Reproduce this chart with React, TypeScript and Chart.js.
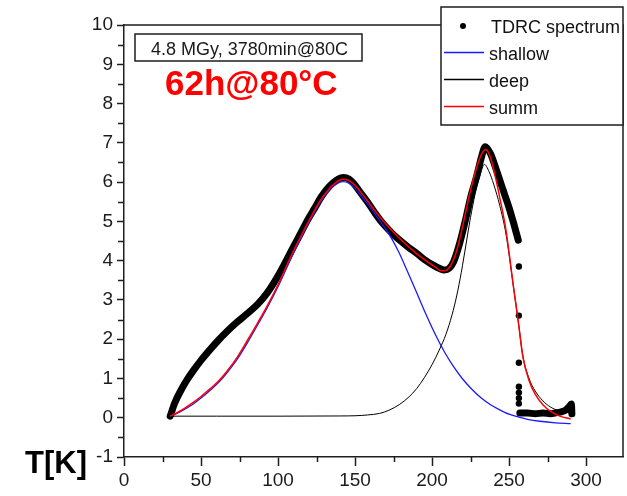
import React, { useEffect, useRef } from "react";
import { Chart, registerables } from "chart.js";

Chart.register(...registerables);

// ---- data ----
const tdrcX = [30, 33, 37, 41, 45, 50, 56, 61, 67, 73, 80, 87, 93, 101, 110, 115, 119, 124, 128, 133, 138, 142.5, 146, 149, 153, 158, 163, 168, 174, 179, 185, 190, 195, 201, 205, 208, 211, 214, 218, 222, 225, 229, 232, 234.5, 238, 241, 244, 247, 250, 253, 256];
const tdrcY = [0.04, 0.38, 0.7, 0.97, 1.2, 1.46, 1.74, 1.96, 2.2, 2.42, 2.65, 2.9, 3.18, 3.68, 4.35, 4.72, 5.02, 5.35, 5.62, 5.88, 6.05, 6.12, 6.08, 5.97, 5.76, 5.5, 5.21, 4.95, 4.7, 4.52, 4.33, 4.19, 4.03, 3.88, 3.8, 3.76, 3.8, 3.97, 4.45, 5.08, 5.6, 6.15, 6.62, 6.9, 6.72, 6.4, 6.05, 5.7, 5.35, 4.95, 4.52];
const tdrcTailX = [257, 262, 267, 272, 277, 281, 284, 287, 289, 290.5, 290.8];
const tdrcTailY = [0.12, 0.12, 0.1, 0.12, 0.1, 0.13, 0.15, 0.2, 0.28, 0.35, 0.1];
const tdrcDotX = [256.4, 256.4, 256.4, 256.4, 256.4, 256.4, 256.4];
const tdrcDotY = [3.85, 2.6, 1.4, 0.79, 0.64, 0.5, 0.36];

const shallowX = [30, 35, 40, 45, 50, 56, 62, 67, 74, 80, 87, 93, 101, 108, 115, 121, 127, 133, 138, 142, 146, 150, 155, 160, 166, 172, 178, 184, 190, 196, 202, 208, 214, 220, 226, 232, 238, 244, 250, 256, 262, 270, 280, 290];
const shallowY = [0.03, 0.12, 0.23, 0.35, 0.5, 0.7, 0.92, 1.15, 1.52, 1.9, 2.38, 2.8, 3.42, 4.02, 4.58, 5.04, 5.46, 5.78, 5.95, 6.01, 5.97, 5.84, 5.6, 5.35, 5.02, 4.68, 4.25, 3.73, 3.19, 2.64, 2.13, 1.68, 1.3, 0.98, 0.72, 0.5, 0.33, 0.2, 0.09, 0.02, -0.04, -0.09, -0.13, -0.15];

const deepX = [30, 60, 100, 140, 150, 158, 166, 172, 179, 185, 190, 195, 200, 205, 209, 213, 216, 219, 222, 225, 228, 231, 234, 237, 240, 244, 248, 253, 256, 259, 263, 267, 272, 277, 283, 290];
const deepY = [0.04, 0.04, 0.04, 0.045, 0.05, 0.07, 0.11, 0.19, 0.34, 0.53, 0.74, 1.02, 1.35, 1.75, 2.12, 2.62, 3.1, 3.7, 4.4, 5.1, 5.7, 6.15, 6.45, 6.27, 5.95, 5.4, 4.68, 3.3, 2.45, 1.57, 1.0, 0.68, 0.43, 0.27, 0.17, 0.12];

const summX = [30, 35, 40, 45, 50, 56, 62, 67, 74, 80, 87, 93, 101, 108, 115, 121, 127, 133, 138, 142, 146, 150, 155, 160, 166, 172, 178, 184, 190, 196, 202, 206, 209, 212, 215, 218, 221, 224, 227, 230, 233, 235, 238, 241, 244, 248, 253, 256, 259, 263, 267, 272, 277, 283, 290];
const summY = [0.04, 0.14, 0.26, 0.39, 0.54, 0.74, 0.96, 1.19, 1.57, 1.96, 2.43, 2.85, 3.47, 4.08, 4.63, 5.08, 5.5, 5.82, 6.0, 6.07, 6.04, 5.92, 5.68, 5.42, 5.12, 4.85, 4.6, 4.38, 4.18, 4.0, 3.84, 3.74, 3.75, 3.87, 4.13, 4.55, 5.08, 5.62, 6.1, 6.5, 6.77, 6.83, 6.62, 6.15, 5.6, 4.78, 3.3, 2.45, 1.55, 0.95, 0.6, 0.33, 0.16, 0.04, -0.03];

const seriesLabels = ["TDRC spectrum", "shallow", "deep", "summ"];
const noteBoxText = "4.8 MGy, 3780min@80C";
const noteText = "62h@80°C";
const axisLabel = "T[K]";

const X_MIN = 0;
const X_MAX = 324;
const X_STEP = 50;
const Y_MIN = -1;
const Y_MAX = 10;
const Y_STEP = 1;

// ---- styles ----
const AXIS = "#1e1e1e";
const FONT = "'Liberation Sans', Arial, Helvetica, sans-serif";
const C_TDRC = "#000000";
const C_SHALLOW = "#1a1aff";
const C_DEEP = "#000000";
const C_SUMM = "#ff0000";

const pts = (xs: number[], ys: number[]) => xs.map((x, i) => ({ x, y: ys[i] as number | null }));

const decorPlugin = {
  id: "decor",
  afterDraw(chart: any) {
    const { ctx, chartArea: a, scales } = chart;
    const xs = scales.x;
    const ys = scales.y;
    ctx.save();
    ctx.strokeStyle = AXIS;
    ctx.lineWidth = 1.5;

    // minor ticks half way between major ticks
    const xv = xs.ticks.map((t: any) => t.value);
    for (let i = 0; i < xv.length; i++) {
      const v = xv[i] + X_STEP / 2;
      if (v <= xs.max) {
        const p = Math.round(xs.getPixelForValue(v)) + 0.5;
        ctx.beginPath();
        ctx.moveTo(p, a.bottom);
        ctx.lineTo(p, a.bottom + 5);
        ctx.stroke();
      }
    }
    const yv = ys.ticks.map((t: any) => t.value);
    for (let i = 0; i < yv.length; i++) {
      const v = yv[i] + Y_STEP / 2;
      if (v < ys.max) {
        const p = Math.round(ys.getPixelForValue(v)) + 0.5;
        ctx.beginPath();
        ctx.moveTo(a.left, p);
        ctx.lineTo(a.left - 6, p);
        ctx.stroke();
      }
    }

    // frame top and right
    ctx.beginPath();
    ctx.moveTo(a.left, a.top);
    ctx.lineTo(a.right, a.top);
    ctx.lineTo(a.right, a.bottom);
    ctx.stroke();

    // legend box (top-right, overlapping the frame)
    const lw = 182;
    const lh = 118;
    const lx = a.right - lw;
    const ly = a.top - 18;
    ctx.fillStyle = "#ffffff";
    ctx.fillRect(lx, ly, lw, lh);
    ctx.strokeRect(lx, ly, lw, lh);
    const colors = [C_TDRC, C_SHALLOW, C_DEEP, C_SUMM];
    ctx.font = `18px ${FONT}`;
    ctx.textBaseline = "alphabetic";
    ctx.textAlign = "left";
    for (let i = 0; i < seriesLabels.length; i++) {
      const cy = ly + 19 + i * 27;
      if (i === 0) {
        ctx.fillStyle = colors[i];
        ctx.beginPath();
        ctx.arc(lx + 22, cy, 3, 0, Math.PI * 2);
        ctx.fill();
        ctx.fillStyle = "#111";
        ctx.fillText(seriesLabels[i], lx + 50, cy + 6.5);
      } else {
        ctx.strokeStyle = colors[i];
        ctx.lineWidth = 1.3;
        ctx.beginPath();
        ctx.moveTo(lx + 3, cy - 0.5);
        ctx.lineTo(lx + 43, cy - 0.5);
        ctx.stroke();
        ctx.fillStyle = "#111";
        ctx.fillText(seriesLabels[i], lx + 48, cy + 6.5);
      }
    }

    // note box
    ctx.strokeStyle = AXIS;
    ctx.lineWidth = 1.5;
    const bx = a.left + 11;
    const by = a.top + 9;
    const bw = 227;
    const bh = 27;
    ctx.strokeRect(bx, by, bw, bh);
    ctx.fillStyle = "#1a1a1a";
    ctx.font = `18px ${FONT}`;
    ctx.textAlign = "center";
    ctx.fillText(noteBoxText, bx + bw / 2 + 1, by + 21);

    // red note
    ctx.fillStyle = "#ff0000";
    ctx.font = `bold 35px ${FONT}`;
    ctx.textAlign = "left";
    ctx.fillText(noteText, a.left + 41, a.top + 70);

    // axis label
    ctx.fillStyle = "#000";
    ctx.font = `bold 31px ${FONT}`;
    ctx.fillText(axisLabel, 25, a.bottom + 16);

    ctx.restore();
  },
};

export default function App() {
  const ref = useRef<HTMLCanvasElement | null>(null);

  useEffect(() => {
    if (!ref.current) return;
    const tdrcLine = [...pts(tdrcX, tdrcY), { x: 256.5, y: null }, ...pts(tdrcTailX, tdrcTailY)];
    const lineBase = {
      showLine: true,
      pointRadius: 0,
      cubicInterpolationMode: "monotone" as const,
      spanGaps: false,
      fill: false,
    };
    const chart = new Chart(ref.current, {
      type: "scatter",
      data: {
        datasets: [
          { ...lineBase, label: seriesLabels[3], data: pts(summX, summY), borderColor: C_SUMM, borderWidth: 1.5, order: 0 },
          { ...lineBase, label: seriesLabels[2], data: pts(deepX, deepY), borderColor: C_DEEP, borderWidth: 1, order: 1 },
          { ...lineBase, label: seriesLabels[1], data: pts(shallowX, shallowY), borderColor: C_SHALLOW, borderWidth: 1.3, order: 2 },
          {
            label: seriesLabels[0],
            data: pts(tdrcDotX, tdrcDotY),
            showLine: false,
            pointRadius: 3.2,
            pointBorderWidth: 0,
            backgroundColor: C_TDRC,
            borderColor: C_TDRC,
            order: 3,
          },
          {
            ...lineBase,
            label: seriesLabels[0],
            data: tdrcLine,
            borderColor: C_TDRC,
            borderWidth: 7,
            borderCapStyle: "round",
            borderJoinStyle: "round",
            order: 4,
          },
        ],
      },
      options: {
        responsive: false,
        animation: false,
        events: [],
        layout: { padding: { top: 25, right: 3, left: 0, bottom: 0 } },
        plugins: {
          legend: { display: false },
          tooltip: { enabled: false },
          title: { display: false },
        },
        scales: {
          x: {
            type: "linear",
            min: X_MIN,
            max: X_MAX,
            ticks: {
              stepSize: X_STEP,
              includeBounds: false,
              color: "#1b1b1b",
              font: { family: FONT, size: 19 },
              padding: 3,
              maxRotation: 0,
            },
            grid: {
              drawOnChartArea: false,
              drawTicks: true,
              tickLength: 9,
              tickColor: AXIS,
              tickWidth: 1.5,
            },
            border: { display: true, color: AXIS, width: 1.5 },
            afterFit: (s: any) => {
              s.height = 39;
            },
          },
          y: {
            type: "linear",
            min: Y_MIN,
            max: Y_MAX,
            ticks: {
              stepSize: Y_STEP,
              includeBounds: false,
              color: "#1b1b1b",
              font: { family: FONT, size: 19 },
              padding: 4,
            },
            grid: {
              drawOnChartArea: false,
              drawTicks: true,
              tickLength: 7,
              tickColor: AXIS,
              tickWidth: 1.5,
            },
            border: { display: true, color: AXIS, width: 1.5 },
            afterFit: (s: any) => {
              s.width = 124;
            },
          },
        },
      },
      plugins: [decorPlugin],
    });
    return () => chart.destroy();
  }, []);

  return (
    <div style={{ position: "fixed", left: 0, top: 0, width: 627, height: 496, background: "#fff" }}>
      <canvas ref={ref} width={627} height={496} style={{ display: "block" }} />
    </div>
  );
}
